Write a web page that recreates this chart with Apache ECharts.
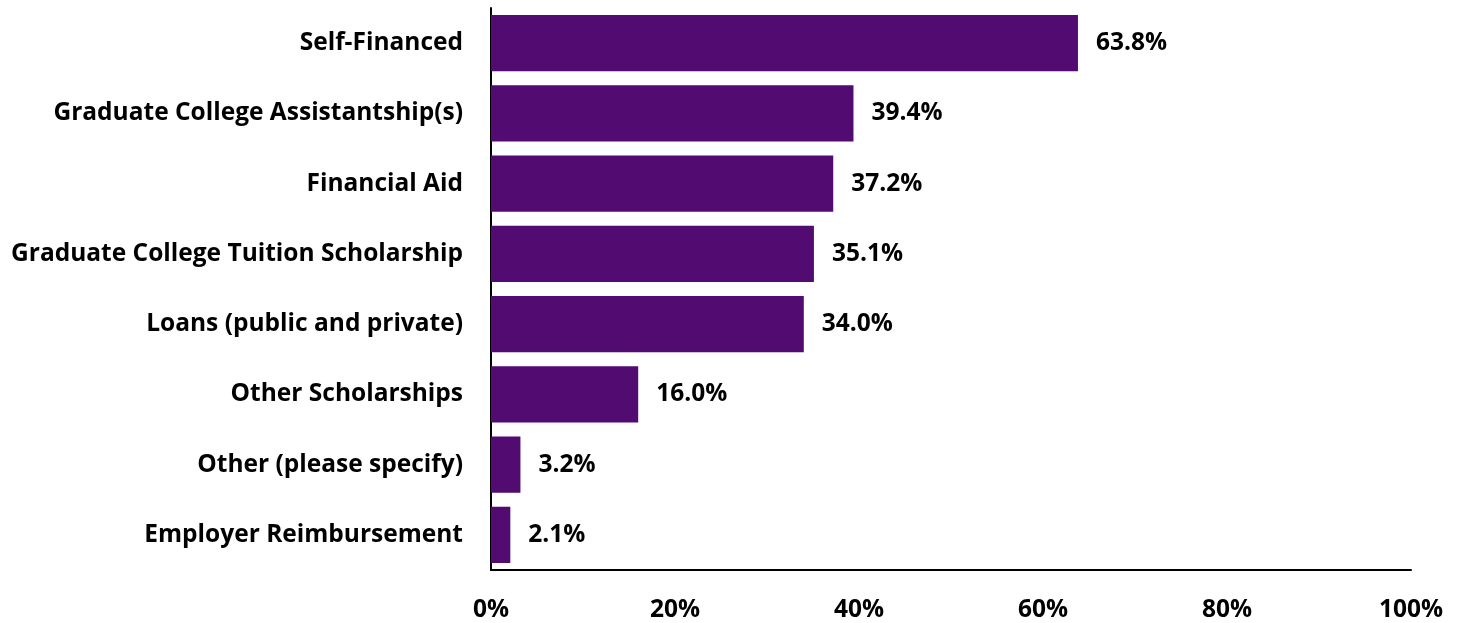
<!DOCTYPE html>
<html><head><meta charset="utf-8">
<script src="https://cdn.jsdelivr.net/npm/echarts@6/dist/echarts.min.js"></script>
<style>html,body{margin:0;padding:0;background:#fff}#c{width:1462px;height:623px}</style>
</head><body><div id="c"></div>
<script>
const categories = ["Self-Financed","Graduate College Assistantship(s)","Financial Aid","Graduate College Tuition Scholarship","Loans (public and private)","Other Scholarships","Other (please specify)","Employer Reimbursement"];
const values = [63.8, 39.4, 37.2, 35.1, 34.0, 16.0, 3.2, 2.1];
const xTicks = [0, 20, 40, 60, 80, 100];
const FONT = 'Open Sans';
const FS = 24.5;
const chart = echarts.init(document.getElementById('c'));
chart.setOption({
  animation: false,
  grid: {left: 491, right: 51, top: 8, bottom: 52, containLabel: false},
  xAxis: {
    type: 'value', min: 0, max: 100, interval: 20,
    axisLine: {show: true, lineStyle: {color: '#000', width: 2}},
    axisTick: {show: false}, splitLine: {show: false},
    axisLabel: {margin: 28, color: '#000', fontFamily: FONT, fontWeight: 'bold', fontSize: FS,
      formatter: v => xTicks.includes(v) ? v + '%' : ''}
  },
  yAxis: {
    type: 'category', data: categories, inverse: true,
    axisLine: {show: true, lineStyle: {color: '#000', width: 2}},
    axisTick: {show: false},
    axisLabel: {margin: 28, padding: [4, 0, 0, 0], color: '#000', fontFamily: FONT, fontWeight: 'bold', fontSize: FS}
  },
  series: [{
    type: 'bar', data: values, barCategoryGap: '20%',
    itemStyle: {color: '#510B71'},
    label: {show: true, position: 'right', distance: 18, padding: [4, 0, 0, 0], color: '#000', fontFamily: FONT, fontWeight: 'bold', fontSize: FS,
      formatter: p => p.value.toFixed(1) + '%'}
  }]
});
</script></body></html>
